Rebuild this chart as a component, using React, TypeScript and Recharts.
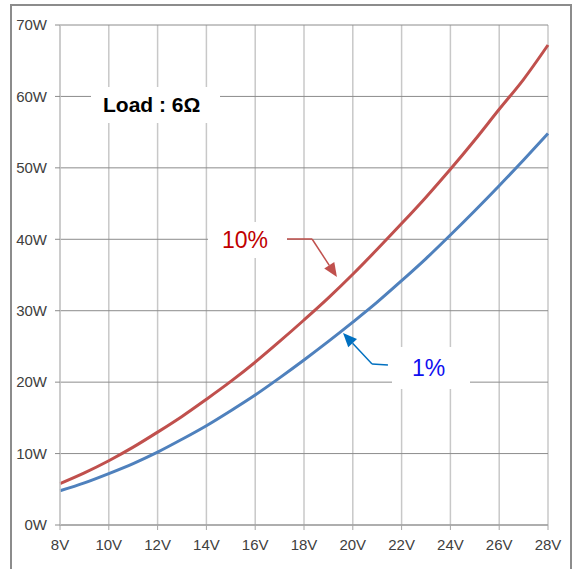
import React from 'react';
import { LineChart, Line, XAxis, YAxis, CartesianGrid, ReferenceLine } from 'recharts';

// supply voltage (V)
const volts = [8, 9, 10, 11, 12, 13, 14, 15, 16, 17, 18, 19, 20, 21, 22, 23, 24, 25, 26, 27, 28];
// output power (W) at 10% THD+N
const thd10 = [5.8, 7.3, 9.0, 10.9, 13.0, 15.2, 17.6, 20.1, 22.8, 25.7, 28.7, 31.8, 35.1, 38.6, 42.2, 45.9, 49.8, 53.9, 58.2, 62.4, 67.2];
// output power (W) at 1% THD+N
const thd1 = [4.8, 5.9, 7.2, 8.6, 10.2, 12.0, 13.9, 16.0, 18.2, 20.6, 23.1, 25.7, 28.4, 31.2, 34.2, 37.3, 40.6, 44.0, 47.5, 51.1, 54.8];

const xTicks = [8, 10, 12, 14, 16, 18, 20, 22, 24, 26, 28];
const yTicks = [0, 10, 20, 30, 40, 50, 60, 70];

const data = volts.map((v, i) => ({ v, p10: thd10[i], p1: thd1[i] }));

const RED = '#C0504D';
const BLUE = '#4F81BD';

// arrow drawn as ReferenceLine shape, head on the second point
const arrowShape = (color: string, head: boolean) => (props: any) => {
  const { x1, y1, x2, y2 } = props;
  if (!head) return <line x1={x1} y1={y1} x2={x2} y2={y2} stroke={color} strokeWidth={1.5} />;
  const ang = Math.atan2(y2 - y1, x2 - x1);
  const len = 14, half = 6;
  const bx = x2 - len * Math.cos(ang), by = y2 - len * Math.sin(ang);
  const p = `${x2},${y2} ${bx + half * Math.sin(ang)},${by - half * Math.cos(ang)} ${bx - half * Math.sin(ang)},${by + half * Math.cos(ang)}`;
  return (
    <g>
      <line x1={x1} y1={y1} x2={bx} y2={by} stroke={color} strokeWidth={1.5} />
      <polygon points={p} fill={color} />
    </g>
  );
};

const tickStyle = { fontFamily: '"Liberation Sans Narrow", "Arial Narrow", sans-serif', fontSize: 15, fill: '#404040' };

const box: React.CSSProperties = { position: 'absolute', background: '#fff', display: 'flex', alignItems: 'center', fontFamily: '"Liberation Sans", Arial, sans-serif' };

export default function App() {
  return (
    <div style={{ position: 'absolute', left: 0, top: 0, width: 578, height: 569, background: '#fff', overflow: 'hidden' }}>
      <div style={{ position: 'absolute', left: 10, top: 4, width: 562, height: 580, border: '2px solid #8C8C8C', boxSizing: 'border-box' }} />
      <div style={{ position: 'absolute', left: 0, top: 0 }}>
        <LineChart width={578} height={569} data={data} margin={{ top: 25, right: 30, bottom: 14, left: 10 }}>
          <CartesianGrid horizontal={false} stroke="#C8C8C8" strokeWidth={1.5} verticalValues={xTicks} />
          <CartesianGrid vertical={false} stroke="#8C8C8C" strokeWidth={1} horizontalValues={yTicks} />
          <XAxis
            dataKey="v"
            type="number"
            domain={[8, 28]}
            ticks={xTicks}
            tickFormatter={(v) => `${v}V`}
            tick={tickStyle}
            axisLine={{ stroke: '#A6A6A6', strokeWidth: 1.5 }}
            tickLine={{ stroke: '#A6A6A6' }}
            tickSize={5}
            tickMargin={9}
            height={30}
          />
          <YAxis
            type="number"
            domain={[0, 70]}
            ticks={yTicks}
            tickFormatter={(v) => `${v}W`}
            tick={tickStyle}
            axisLine={{ stroke: '#C8C8C8', strokeWidth: 1.5 }}
            tickLine={{ stroke: '#8C8C8C' }}
            tickSize={5}
            tickMargin={8}
            width={50}
          />
          <Line type="monotone" dataKey="p10" stroke={RED} strokeWidth={3} dot={false} isAnimationActive={false} />
          <Line type="monotone" dataKey="p1" stroke={BLUE} strokeWidth={3} dot={false} isAnimationActive={false} />
          <ReferenceLine segment={[{ x: 17.3, y: 40.04 }, { x: 18.33, y: 40.04 }]} shape={arrowShape(RED, false)} />
          <ReferenceLine segment={[{ x: 18.33, y: 40.04 }, { x: 19.35, y: 34.72 }]} shape={arrowShape(RED, true)} />
          <ReferenceLine segment={[{ x: 21.44, y: 22.4 }, { x: 20.79, y: 22.54 }]} shape={arrowShape('#0070C0', false)} />
          <ReferenceLine segment={[{ x: 20.79, y: 22.54 }, { x: 19.6, y: 26.88 }]} shape={arrowShape('#0070C0', true)} />
        </LineChart>
      </div>
      <div style={{ ...box, left: 91, top: 87, width: 129, height: 36, paddingLeft: 12, boxSizing: 'border-box', fontWeight: 'bold', fontSize: 21, color: '#000' }}>
        Load : 6Ω
      </div>
      <div style={{ ...box, left: 208, top: 222, width: 79, height: 36, paddingLeft: 14, boxSizing: 'border-box', fontSize: 23, color: '#C00000' }}>
        10%
      </div>
      <div style={{ ...box, left: 392, top: 347, width: 78, height: 42, paddingLeft: 20, boxSizing: 'border-box', fontSize: 23, color: '#1010F0' }}>
        1%
      </div>
    </div>
  );
}
